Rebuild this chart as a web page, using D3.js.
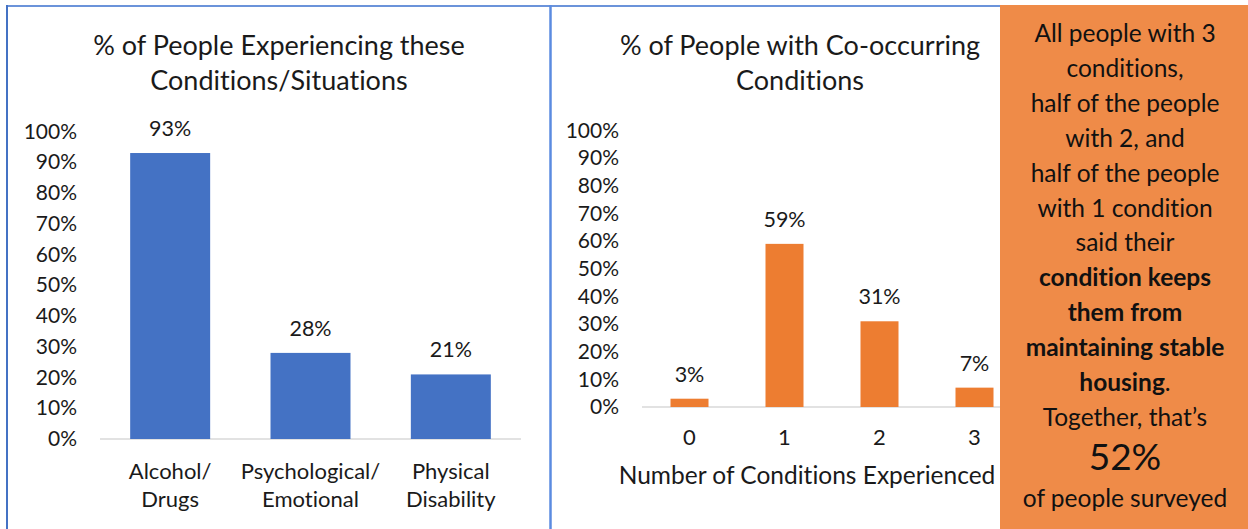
<!DOCTYPE html>
<html><head><meta charset="utf-8">
<script src="https://cdn.jsdelivr.net/npm/d3@7"></script>
<style>
html,body{margin:0;padding:0;background:#fff;}
svg{display:block;font-family:Lato,"Open Sans",sans-serif;}
svg text{font-variant-ligatures:none;font-feature-settings:"liga" 0,"clig" 0;}
</style></head><body>
<svg id="c" width="1248" height="529"></svg>
<script>
// ---- data ----
const title1 = ["% of People Experiencing these", "Conditions/Situations"];
const cats1 = [["Alcohol/", "Drugs"], ["Psychological/", "Emotional"], ["Physical", "Disability"]];
const vals1 = [93, 28, 21];

const title2 = ["% of People with Co-occurring", "Conditions"];
const cats2 = ["0", "1", "2", "3"];
const vals2 = [3, 59, 31, 7];
const xTitle2 = "Number of Conditions Experienced";

const yTicks = [0, 10, 20, 30, 40, 50, 60, 70, 80, 90, 100];

const boxLines = [
  [["All people with 3", false]],
  [["conditions,", false]],
  [["half of the people", false]],
  [["with 2, and", false]],
  [["half of the people", false]],
  [["with 1 condition", false]],
  [["said their", false]],
  [["condition keeps", true]],
  [["them from", true]],
  [["maintaining stable", true]],
  [["housing", true], [".", false]],
  [["Together, that\u2019s", false]],
  [["52%", false]],
  [["of people surveyed", false]]
];

// ---- drawing ----
const svg = d3.select("#c");
const BLUE = "#4472C4", ORANGE = "#ED7D31", BOX = "#EF8B48", TXT = "#1a1a1a";

function drawChart(opt) {
  const g = svg.append("g");
  const x = d3.scaleBand().domain(opt.cats.map((d, i) => i)).range(opt.xr)
    .paddingInner(opt.pad).paddingOuter(opt.pad / 2);
  const y = d3.scaleLinear().domain([0, 100]).range(opt.yr);

  // title
  g.append("text").attr("text-anchor", "middle")
    .attr("font-size", 27).attr("fill", TXT)
    .selectAll("tspan").data(opt.title).join("tspan")
    .attr("x", opt.tx).attr("y", (d, i) => 55 + i * 35).text(d => d);

  // y axis
  const ya = d3.axisLeft(y).tickValues(yTicks).tickSize(0).tickPadding(23)
    .tickFormat(d => d + "%");
  const yg = g.append("g").attr("transform", `translate(${opt.xr[0]},0)`).call(ya);
  yg.select(".domain").remove();
  yg.selectAll("text").attr("font-size", 21).attr("fill", TXT)
    .attr("font-family", "Lato, 'Open Sans', sans-serif");

  // baseline
  g.append("line").attr("x1", opt.xr[0]).attr("x2", opt.axisEnd)
    .attr("y1", y(0)).attr("y2", y(0)).attr("stroke", "#D9D9D9").attr("stroke-width", 1.5);

  // bars
  g.selectAll("rect.bar").data(opt.vals).join("rect").attr("class", "bar")
    .attr("x", (d, i) => x(i)).attr("width", x.bandwidth())
    .attr("y", d => y(d)).attr("height", d => y(0) - y(d))
    .attr("fill", opt.color);

  // data labels
  g.selectAll("text.lbl").data(opt.vals).join("text").attr("class", "lbl")
    .attr("x", (d, i) => x(i) + x.bandwidth() / 2).attr("y", d => y(d) - 17)
    .attr("text-anchor", "middle").attr("font-size", 21.5).attr("fill", TXT)
    .text(d => d + "%");

  // category labels
  opt.cats.forEach((c, i) => {
    const lines = Array.isArray(c) ? c : [c];
    const t = g.append("text").attr("text-anchor", "middle")
      .attr("font-size", opt.catSize).attr("fill", TXT);
    lines.forEach((l, j) => {
      t.append("tspan").attr("x", x(i) + x.bandwidth() / 2)
        .attr("y", opt.catY + j * 28).text(l);
    });
  });
  return { x, y };
}

drawChart({
  title: title1, tx: 279, cats: cats1, vals: vals1,
  xr: [100, 521], yr: [439, 131.5], pad: 0.43, color: BLUE,
  axisEnd: 521, catSize: 22, catY: 479
});

drawChart({
  title: title2, tx: 800, cats: cats2, vals: vals2,
  xr: [642, 1022], yr: [407, 130.5], pad: 0.6, color: ORANGE,
  axisEnd: 1022, catSize: 22, catY: 445
});

// x-axis title for right chart
svg.append("text").attr("x", 807).attr("y", 484).attr("text-anchor", "middle")
  .attr("font-size", 24.5).attr("fill", TXT).text(xTitle2);

// frame lines
svg.append("line").attr("x1", 6).attr("x2", 1000).attr("y1", 6).attr("y2", 6)
  .attr("stroke", "#6B93DA").attr("stroke-width", 2);
svg.append("line").attr("x1", 7).attr("x2", 7).attr("y1", 5).attr("y2", 529)
  .attr("stroke", BLUE).attr("stroke-width", 2);
svg.append("line").attr("x1", 550.5).attr("x2", 550.5).attr("y1", 5).attr("y2", 529)
  .attr("stroke", "#5B8BE0").attr("stroke-width", 2.5);

// orange annotation box
svg.append("rect").attr("x", 1000).attr("y", 5).attr("width", 248).attr("height", 524)
  .attr("fill", BOX);
const bt = svg.append("g");
boxLines.forEach((segs, i) => {
  const big = i === 12;
  let yy = 42 + i * 34.9;
  if (big) yy = 470;
  if (i === 13) yy = 507;
  const t = bt.append("text").attr("x", 1125).attr("y", yy)
    .attr("text-anchor", "middle").attr("fill", "#111");
  segs.forEach(s => {
    t.append("tspan").text(s[0])
      .attr("font-weight", s[1] ? "bold" : "normal")
      .attr("font-size", big ? 37 : 24.5);
  });
});
</script>
</body></html>
